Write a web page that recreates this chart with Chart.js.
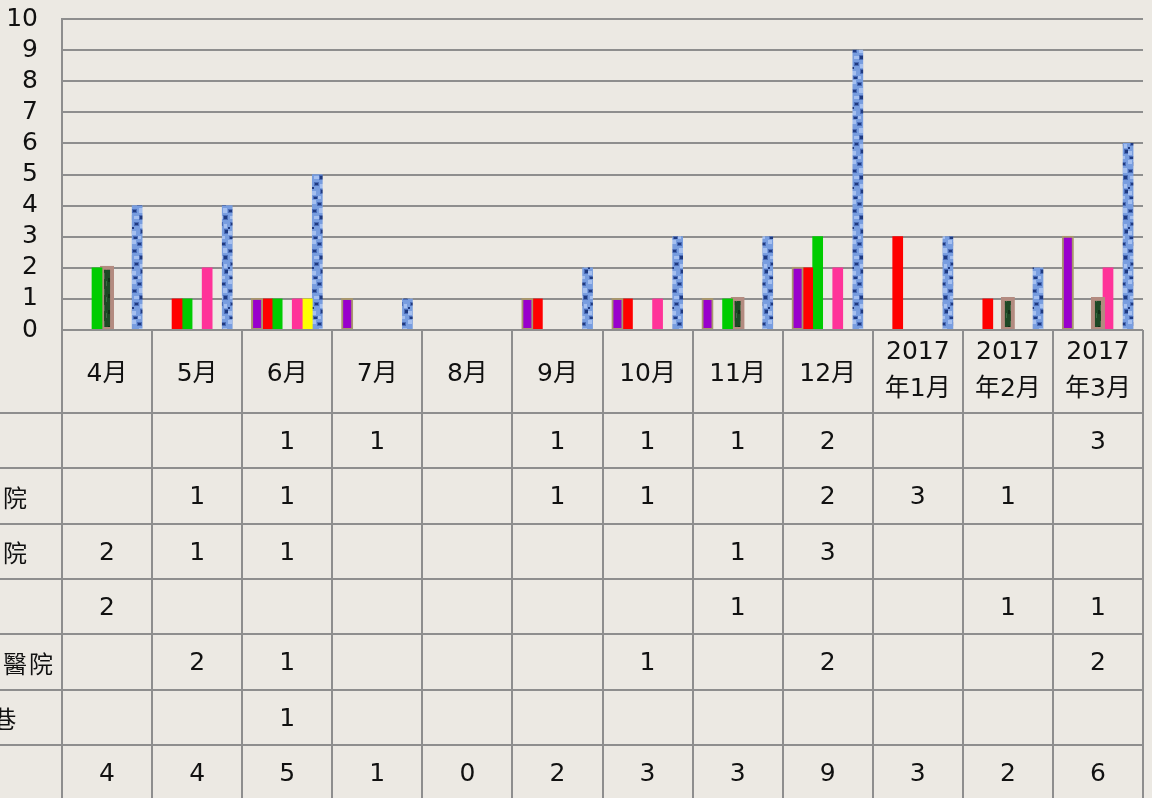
<!DOCTYPE html>
<html>
<head>
<meta charset="utf-8">
<script src="https://cdn.jsdelivr.net/npm/chart.js@4/dist/chart.umd.min.js"></script>
<style>
  html, body { margin: 0; padding: 0; background: #ece9e3; }
  #wrap { width: 1152px; height: 798px; position: relative; }
</style>
</head>
<body>
<div id="wrap"><canvas id="chart"></canvas></div>
<script>
// categories (months, last three are two-line labels)
const categories = ['4月', '5月', '6月', '7月', '8月', '9月', '10月', '11月', '12月',
    ['2017', '年1月'], ['2017', '年2月'], ['2017', '年3月']];

// series names (only the tails are visible in the picture)
const seriesNames = ['診所', '中興醫院', '仁愛醫院', '其他', '三軍總醫院', '長春1巷', '合計'];

// series values, null = empty cell in the data table
const clinic = [null, null, 1, 1, null, 1, 1, 1, 2, null, null, 3];
const zhongxing = [null, 1, 1, null, null, 1, 1, null, 2, 3, 1, null];
const renai = [2, 1, 1, null, null, null, null, 1, 3, null, null, null];
const other = [2, null, null, null, null, null, null, 1, null, null, 1, 1];
const triService = [null, 2, 1, null, null, null, 1, null, 2, null, null, 2];
const lane = [null, null, 1, null, null, null, null, null, null, null, null, null];
const total = [4, 4, 5, 1, 0, 2, 3, 3, 9, 3, 2, 6];

const yTicks = [0, 1, 2, 3, 4, 5, 6, 7, 8, 9, 10];

const GRID = '#8e8e8e';
const FONT = '"DejaVu Sans", "Noto Sans CJK TC", sans-serif';
const CJK = '"Noto Sans CJK TC", sans-serif';

// blue marble texture for the total bars
function bluePattern() {
    const c = document.createElement('canvas');
    c.width = 12; c.height = 40;
    const g = c.getContext('2d');
    g.fillStyle = '#789ddf';
    g.fillRect(0, 0, 12, 40);
    g.fillStyle = '#a4bff0';
    [[0, 0, 4, 4], [7, 8, 4, 5], [2, 16, 5, 3], [8, 24, 3, 4], [0, 31, 4, 4], [6, 36, 3, 3]]
        .forEach(d => g.fillRect(d[0], d[1], d[2], d[3]));
    g.fillStyle = '#4a6cb8';
    [[5, 2, 5, 4], [0, 9, 5, 4], [7, 15, 5, 5], [2, 22, 5, 4], [8, 29, 4, 5], [1, 36, 5, 3]]
        .forEach(d => g.fillRect(d[0], d[1], d[2], d[3]));
    g.fillStyle = '#1f3a80';
    [[6, 3, 3, 2], [1, 10, 3, 2], [8, 16, 3, 3], [3, 23, 3, 2], [9, 30, 3, 3], [0, 27, 2, 2], [2, 37, 3, 2]]
        .forEach(d => g.fillRect(d[0], d[1], d[2], d[3]));
    return g.createPattern(c, 'repeat');
}

// dark green streaky texture
function greenPattern() {
    const c = document.createElement('canvas');
    c.width = 6; c.height = 16;
    const g = c.getContext('2d');
    g.fillStyle = '#1e4826';
    g.fillRect(0, 0, 6, 16);
    g.fillStyle = '#3a6a42';
    g.fillRect(2, 1, 1, 6);
    g.fillRect(4, 9, 1, 5);
    g.fillStyle = '#143019';
    g.fillRect(0, 6, 2, 4);
    return g.createPattern(c, 'repeat');
}

const tablePlugin = {
    id: 'dataTable',
    afterDraw(chart) {
        const ctx = chart.ctx;
        const x = chart.scales.x;
        const area = chart.chartArea;
        const left = area.left, right = area.right, top = area.bottom;
        const n = categories.length;
        const cw = (right - left) / n;
        const headerBottom = top + 83;
        const rowH = 55.3;
        const rows = [clinic, zhongxing, renai, other, triService, lane, total];
        const H = chart.height;

        ctx.save();
        ctx.strokeStyle = GRID;
        ctx.lineWidth = 2;
        // vertical lines
        ctx.beginPath();
        for (let i = 0; i <= n; i++) {
            const xx = Math.round(left + i * cw);
            ctx.moveTo(xx, i === 0 ? area.top : top);
            ctx.lineTo(xx, H);
        }
        // horizontal lines
        ctx.moveTo(left, top); ctx.lineTo(right, top);
        for (let r = 0; r <= rows.length; r++) {
            const yy = Math.round(headerBottom + r * rowH);
            ctx.moveTo(0, yy); ctx.lineTo(right, yy);
        }
        ctx.stroke();

        // header labels
        ctx.fillStyle = '#111';
        ctx.font = '25px ' + FONT;
        ctx.textAlign = 'center';
        ctx.textBaseline = 'middle';
        categories.forEach((c, i) => {
            const cx = x.getPixelForValue(i);
            const mid = (top + headerBottom) / 2 + 1;
            if (Array.isArray(c)) {
                ctx.fillText(c[0], cx, mid - 20);
                ctx.fillText(c[1], cx, mid + 17);
            } else {
                ctx.fillText(c, cx, mid + 2);
            }
        });

        // cell values
        ctx.font = '25px ' + FONT;
        rows.forEach((vals, r) => {
            const cy = headerBottom + r * rowH + rowH / 2 + 2;
            vals.forEach((v, i) => {
                if (v === null) return;
                ctx.fillText(String(v), x.getPixelForValue(i), cy);
            });
        });

        // row names, cut by the left edge of the page
        ctx.textAlign = 'left';
        ctx.font = '24px ' + CJK;
        seriesNames.forEach((name, r) => {
            const cy = headerBottom + r * rowH + rowH / 2 + 2;
            let px = -75;
            for (const ch of name) {
                ctx.fillText(ch, px, cy);
                px += ctx.measureText(ch).width + 2;
            }
        });
        ctx.restore();
    }
};

const ctx = document.getElementById('chart');

const data = {
    labels: categories,
    datasets: [{
        label: seriesNames[0],
        data: clinic,
        backgroundColor: '#9900cc',
        borderColor: '#a8976e',
        borderWidth: 2,
        borderSkipped: false,
        inflateAmount: 1
    }, {
        label: seriesNames[1],
        data: zhongxing,
        backgroundColor: '#ff0000'
    }, {
        label: seriesNames[2],
        data: renai,
        backgroundColor: '#00cc00'
    }, {
        label: seriesNames[3],
        data: other,
        backgroundColor: greenPattern(),
        borderColor: '#b38b80',
        borderWidth: 4,
        borderSkipped: false,
        inflateAmount: 2
    }, {
        label: seriesNames[4],
        data: triService,
        backgroundColor: '#ff3399'
    }, {
        label: seriesNames[5],
        data: lane,
        backgroundColor: '#ffff00'
    }, {
        label: seriesNames[6],
        data: total,
        backgroundColor: bluePattern()
    }]
};

new Chart(ctx, {
    type: 'bar',
    data: data,
    plugins: [tablePlugin],
    options: {
        responsive: true,
        maintainAspectRatio: false,
        animation: false,
        layout: { padding: { top: 19, bottom: 468, left: 0, right: 9 } },
        datasets: {
            bar: { categoryPercentage: 0.78, barPercentage: 1, inflateAmount: 0.33 }
        },
        plugins: {
            legend: { display: false },
            tooltip: { enabled: false }
        },
        scales: {
            x: { display: false },
            y: {
                min: 0,
                max: 10,
                afterBuildTicks: scale => { scale.ticks = yTicks.map(v => ({ value: v })); },
                afterFit: scale => {
                    scale.width = 62;
                    scale.paddingTop = 0;
                    scale.paddingBottom = 0;
                },
                ticks: {
                    autoSkip: false,
                    color: '#111',
                    font: { size: 25, family: FONT },
                    padding: 24
                },
                grid: { color: GRID, lineWidth: 2, drawTicks: false },
                border: { display: true, color: GRID, width: 2 }
            }
        }
    }
});
</script>
</body>
</html>
